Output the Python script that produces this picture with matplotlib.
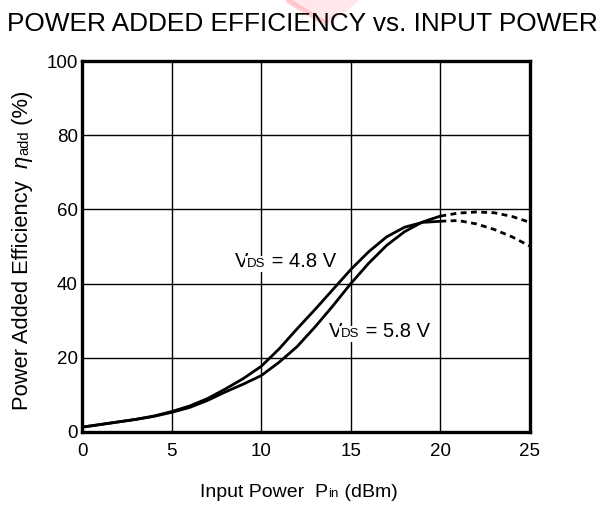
import matplotlib
matplotlib.use("Agg")
import matplotlib.pyplot as plt
from matplotlib.transforms import offset_copy
from matplotlib.lines import Line2D
from matplotlib.patches import Polygon

plt.rcParams['font.family'] = ['Liberation Sans', 'DejaVu Sans']

# ---- data ----
pin_solid = [0, 1, 2, 3, 4, 5, 6, 7, 8, 9, 10, 11, 12, 13, 14, 15, 16, 17, 18, 19, 20]
pae_48 = [1.3, 2.0, 2.7, 3.4, 4.3, 5.5, 7.0, 9.0, 11.6, 14.4, 17.7, 22.4, 27.8, 33.0, 38.4, 43.8, 48.6, 52.6, 55.2, 56.5, 56.8]
pae_58 = [1.3, 2.0, 2.7, 3.4, 4.2, 5.3, 6.6, 8.5, 10.8, 12.9, 15.2, 18.8, 23.0, 28.3, 34.0, 40.0, 45.5, 50.3, 54.0, 56.6, 58.2]
pin_dash = [20, 21, 22, 23, 24, 25]
pae_48_dash = [56.8, 57.0, 56.1, 54.6, 52.6, 50.1]
pae_58_dash = [58.2, 59.0, 59.3, 59.1, 58.1, 56.5]
x_ticks = [0, 5, 10, 15, 20, 25]
y_ticks = [0, 20, 40, 60, 80, 100]

W, H = 606, 505
fig = plt.figure(figsize=(W / 100, H / 100), dpi=100)
ax = fig.add_axes([82 / W, 1 - 432 / H, (530 - 82) / W, (432 - 61) / H])

ax.set_xlim(0, 25)
ax.set_ylim(0, 100)
ax.set_xticks(x_ticks)
ax.set_yticks(y_ticks)
ax.tick_params(length=0, labelsize=13.5)
ax.tick_params(axis='x', pad=8)
ax.tick_params(axis='y', pad=3)
ax.grid(True, color='black', linewidth=1.0)
ax.set_axisbelow(True)
for s in ax.spines.values():
    s.set_linewidth(2.4)

lw = 2.0
ax.plot(pin_solid, pae_48, color='black', lw=lw, solid_capstyle='butt')
ax.plot(pin_solid, pae_58, color='black', lw=lw, solid_capstyle='butt')
ax.plot(pin_dash, pae_48_dash, color='black', lw=lw, dashes=(2.1, 1.6))
ax.plot(pin_dash, pae_58_dash, color='black', lw=lw, dashes=(2.1, 1.6))

renderer = fig.canvas.get_renderer()


def text_width(s, size, style='normal'):
    t1 = fig.text(0, 0, 'X' + s + 'X', fontsize=size, style=style)
    t2 = fig.text(0, 0, 'XX', fontsize=size, style=style)
    w = t1.get_window_extent(renderer).width - t2.get_window_extent(renderer).width
    t1.remove(); t2.remove()
    return w


def rich(x, y, pieces, transform, rotation=0, bg=False):
    # pieces: (text, size, style, extra_px_after)
    widths = [text_width(s, sz, st) + k for s, sz, st, k in pieces]
    total = sum(widths)
    off = -total / 2
    texts = []
    for (s, sz, st, k), w in zip(pieces, widths):
        if rotation == 0:
            tr = offset_copy(transform, fig=fig, x=off, y=0, units='dots')
        else:
            tr = offset_copy(transform, fig=fig, x=0, y=off, units='dots')
        t = fig.text(x, y, s, fontsize=sz, style=st, transform=tr,
                     ha='left', va='baseline', rotation=rotation,
                     rotation_mode='anchor', zorder=5)
        if bg:
            t.set_bbox(dict(facecolor='white', edgecolor='none', pad=1.5))
        texts.append(t)
        off += w
    return texts


# title
fig.text(7 / W, 1 - 31 / H, 'POWER ADDED EFFICIENCY vs. INPUT POWER',
         fontsize=18.9, ha='left', va='baseline')

# x label
rich(299 / W, 1 - 497 / H,
     [('Input Power  P', 14, 'normal', 0), ('in', 9.5, 'normal', 0), (' (dBm)', 14, 'normal', 0)],
     fig.transFigure)

# y label
rich(28 / W, 1 - 250 / H,
     [('Power Added Efficiency  ', 15.8, 'normal', 0), ('η', 15.8, 'italic', 0),
      ('add', 10.5, 'normal', 0), (' (%)', 15.8, 'normal', 0)],
     fig.transFigure, rotation=90)

# curve labels
rich(11.35, 44.5, [('V', 14.5, 'normal', -1.5), ('DS', 9.5, 'normal', 0), (' = 4.8 V', 14.5, 'normal', 0)],
     ax.transData, bg=True)
rich(16.6, 25.7, [('V', 14.5, 'normal', -1.5), ('DS', 9.5, 'normal', 0), (' = 5.8 V', 14.5, 'normal', 0)],
     ax.transData, bg=True)

# faint red watermark near the title
fig.add_artist(Polygon([(285 / W, 1.0), (360 / W, 1.0), (328 / W, 1 - 25 / H)],
                       closed=True, transform=fig.transFigure, facecolor='#ffd0d6',
                       edgecolor='none', alpha=0.5, zorder=0))
fig.add_artist(Line2D([287 / W, 326 / W], [1.0, 1 - 24 / H],
                      transform=fig.transFigure, color='#ff7080', alpha=0.3,
                      lw=4, solid_capstyle='butt', zorder=0))

fig.savefig('out.png', dpi=100)
